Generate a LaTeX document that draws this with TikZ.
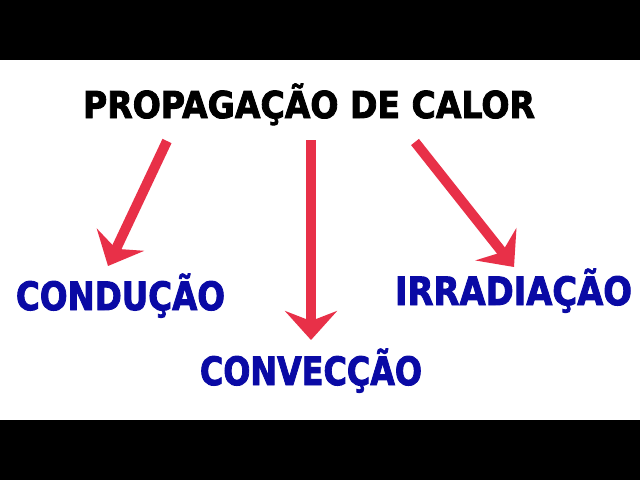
\documentclass[tikz,border=0pt]{standalone}
\usepackage{fontspec}
\setmainfont{DejaVu Sans}[BoldFeatures={FakeBold=2.5}]
\usetikzlibrary{arrows.meta}
\definecolor{arrowred}{RGB}{232,48,72}
\definecolor{labelblue}{RGB}{10,10,165}
\tikzset{
  bigarrow/.style={draw=arrowred, line width=10pt,
    -{Stealth[length=29pt, width=52pt, inset=10pt]}},
  titletext/.style={inner sep=0pt, anchor=base, text=black, font=\bfseries},
  modetext/.style={inner sep=0pt, anchor=base, text=labelblue, font=\bfseries}
}
\begin{document}
\begin{tikzpicture}[x=1pt,y=-1pt]
\useasboundingbox (0,0) rectangle (640,480);
\fill[white] (0,0) rectangle (640,480);
\fill[black] (0,0) rectangle (640,60);
\fill[black] (0,420) rectangle (640,480);

\node[titletext] (title) at (309,118)
  {\resizebox{452pt}{\height}{\fontsize{37}{40}\selectfont PROPAGAÇÃO DE CALOR}};
\node[modetext] (cond) at (120.5,310)
  {\resizebox{209pt}{\height}{\fontsize{39}{42}\selectfont CONDUÇÃO}};
\node[modetext] (conv) at (311,385)
  {\resizebox{222pt}{\height}{\fontsize{39}{42}\selectfont CONVECÇÃO}};
\node[modetext] (irr) at (513.5,305)
  {\resizebox{237pt}{\height}{\fontsize{39}{42}\selectfont IRRADIAÇÃO}};

\coordinate (s1) at (167,141);
\coordinate (e1) at (108,266);
\coordinate (s2) at (311,140);
\coordinate (e2) at (311,340);
\coordinate (s3) at (415,142);
\coordinate (e3) at (514,267);

\draw[bigarrow] (s1) -- (e1);
\draw[bigarrow] (s2) -- (e2);
\draw[bigarrow] (s3) -- (e3);
\end{tikzpicture}
\end{document}
